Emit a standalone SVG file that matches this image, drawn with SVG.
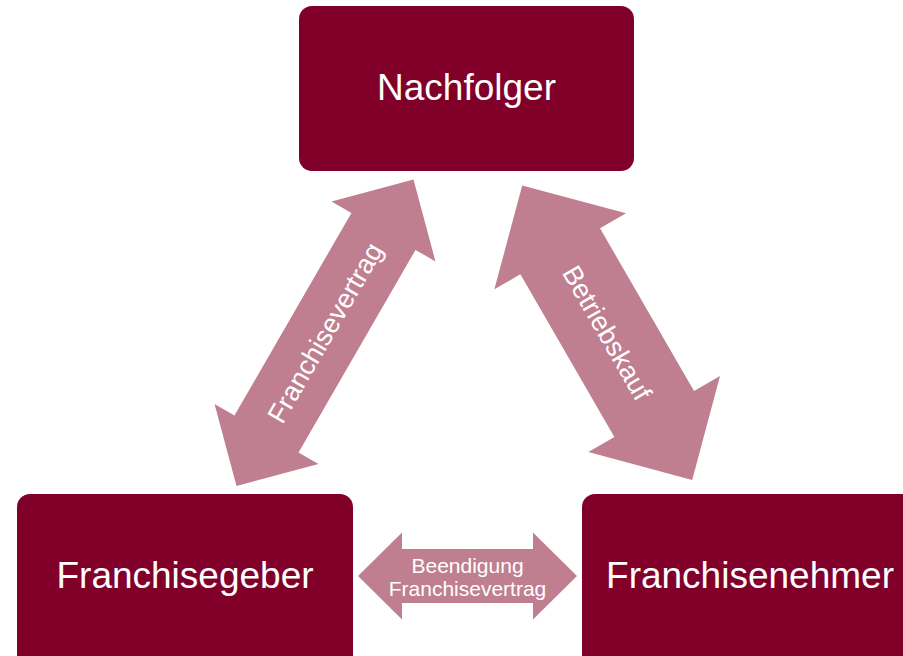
<svg xmlns="http://www.w3.org/2000/svg" width="903" height="656" viewBox="0 0 903 656">
<style>
.box{fill:#80002A}
.arr{fill:#BF7F91}
.nt{font-family:"Liberation Sans",Arial,sans-serif;font-size:37px;fill:#ffffff;text-anchor:middle}
.at{font-family:"Liberation Sans",Arial,sans-serif;fill:#ffffff;text-anchor:middle}
</style>
<rect width="903" height="656" fill="#ffffff"/>
<g id="connectors">
<g id="arrow-franchisevertrag" transform="translate(325,332.7) rotate(-60)">
<path class="arr" d="M -177 0 L -117 -60 L -117 -37 L 117 -37 L 117 -60 L 177 0 L 117 60 L 117 37 L -117 37 L -117 60 Z"/>
<text class="at" x="0" y="9.5" font-size="27">Franchisevertrag</text>
</g>
<g id="arrow-betriebskauf" transform="translate(607.2,332.7) rotate(60)">
<path class="arr" d="M -170 0 L -94 -76 L -94 -46 L 94 -46 L 94 -76 L 170 0 L 94 76 L 94 46 L -94 46 L -94 76 Z"/>
<text class="at" x="0" y="9.5" font-size="27">Betriebskauf</text>
</g>
<g id="arrow-beendigung" transform="translate(467.5,576)">
<path class="arr" d="M -109.5 0 L -65.5 -43.5 L -65.5 -27 L 65.5 -27 L 65.5 -43.5 L 109.5 0 L 65.5 43.5 L 65.5 27 L -65.5 27 L -65.5 43.5 Z"/>
<text class="at" x="0" y="-3" font-size="21">Beendigung</text>
<text class="at" x="0" y="20" font-size="21">Franchisevertrag</text>
</g>
</g>
<g id="node-nachfolger">
<rect class="box" x="299" y="6" width="335" height="165" rx="13" ry="13"/>
<text class="nt" x="466.5" y="100">Nachfolger</text>
</g>
<g id="node-franchisegeber">
<rect class="box" x="17" y="494" width="336" height="175" rx="13" ry="13"/>
<text class="nt" x="185" y="588">Franchisegeber</text>
</g>
<g id="node-franchisenehmer">
<rect class="box" x="582" y="494" width="336" height="175" rx="13" ry="13"/>
<text class="nt" x="750" y="588">Franchisenehmer</text>
</g>
</svg>
